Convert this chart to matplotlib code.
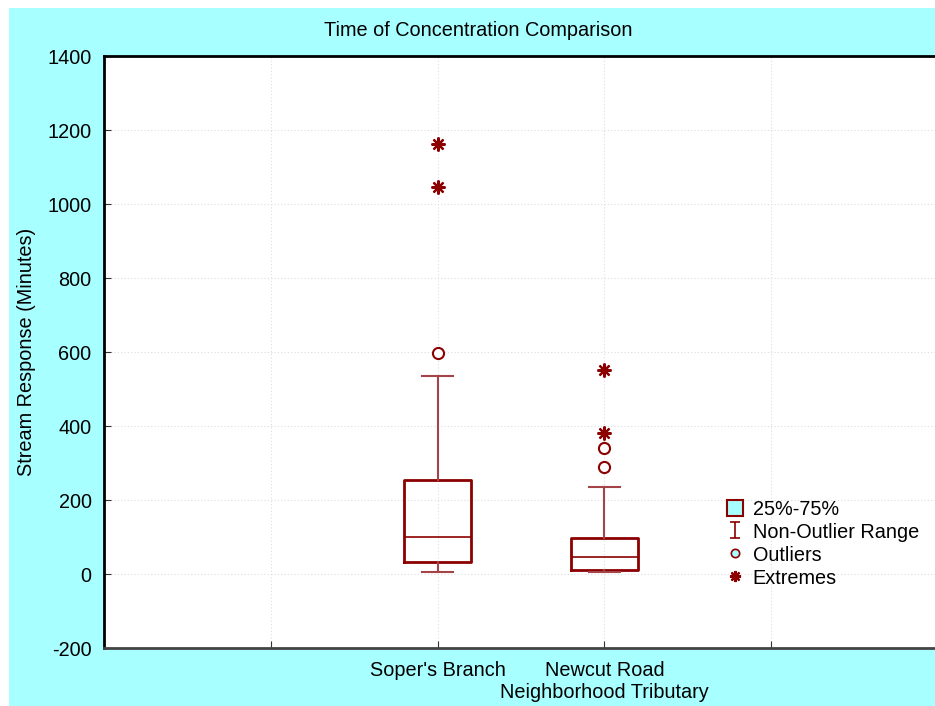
import matplotlib
matplotlib.use('Agg')
import matplotlib.pyplot as plt
from matplotlib.patches import Rectangle, Patch
from matplotlib.lines import Line2D
from matplotlib.path import Path

plt.rcParams['font.family'] = ['Liberation Sans', 'DejaVu Sans']
plt.rcParams['axes.unicode_minus'] = False

# data
sites = ["Soper's Branch", "Newcut Road\nNeighborhood Tributary"]
q1 = [32, 11]
median = [100, 46]
q3 = [254, 97]
whisker_lo = [5, 5]
whisker_hi = [535, 235]
outliers = [[597], [289, 340]]
extremes = [[1045, 1162], [381, 551]]

positions = [2, 3]
dark = '#8b0000'
whisk = '#a44448'
cyan = '#a8ffff'
fs = 14.3

# I-beam marker for the whisker legend entry
ibeam = Path([(-0.7, 1), (0.7, 1), (0, 1), (0, -1), (-0.7, -1), (0.7, -1)],
             [Path.MOVETO, Path.LINETO, Path.MOVETO, Path.LINETO, Path.MOVETO, Path.LINETO])

fig = plt.figure(figsize=(9.35, 7.06), dpi=100)
fig.patch.set_facecolor('white')
fig.patches.append(Rectangle((9 / 935, 0), 1, 1 - 8 / 706, transform=fig.transFigure,
                             facecolor=cyan, edgecolor='none', zorder=-10))

ax = fig.add_axes([104 / 935, 58 / 706, 834 / 935, 592 / 706])

stats = []
for i in range(len(sites)):
    stats.append(dict(med=median[i], q1=q1[i], q3=q3[i],
                      whislo=whisker_lo[i], whishi=whisker_hi[i], fliers=[]))

ax.bxp(stats, positions=positions, widths=0.4, showfliers=False,
       boxprops=dict(color=dark, linewidth=2),
       medianprops=dict(color=dark, linewidth=1.2),
       whiskerprops=dict(color=whisk, linewidth=1.5),
       capprops=dict(color=whisk, linewidth=1.5),
       capwidths=0.19)

for p, vals in zip(positions, outliers):
    ax.plot([p] * len(vals), vals, 'o', ms=8, mfc='white', mec=dark, mew=1.5)
for p, vals in zip(positions, extremes):
    ax.plot([p] * len(vals), vals, ls='none', marker=(8, 2, 0), ms=10, mec=dark, mew=1.6)

ax.set_xlim(0, 5)
ax.set_ylim(-200, 1400)
ax.set_yticks(range(-200, 1401, 200))
ax.set_xticks([1, 2, 3, 4])
ax.set_xticklabels(['', sites[0], sites[1], ''])
ax.tick_params(direction='in', labelsize=fs, length=5, color='#333333', pad=9)
ax.tick_params(axis='x', pad=9)
ax.grid(True, ls=(0, (1, 2)), color='#dddddd', lw=0.8)
for s in ['left', 'bottom', 'top']:
    ax.spines[s].set_linewidth(2)
ax.spines['bottom'].set_color('#444444')
ax.set_ylabel('Stream Response (Minutes)', fontsize=fs, labelpad=8)

fig.text(478 / 935, 1 - 31 / 706, 'Time of Concentration Comparison',
         ha='center', va='center', fontsize=fs)

handles = [
    Patch(facecolor=cyan, edgecolor=dark, linewidth=1.5, label='25%-75%'),
    Line2D([], [], color=dark, marker=ibeam, ls='none', ms=11, mew=1.2, label='Non-Outlier Range'),
    Line2D([], [], color=dark, marker='o', ls='none', ms=6, mfc=cyan, mec=dark, mew=1.2, label='Outliers'),
    Line2D([], [], color=dark, marker=(8, 2, 0), ls='none', ms=8, mew=1.6, label='Extremes'),
]
fig.legend(handles=handles, loc='upper left', bbox_to_anchor=(719 / 935, 1 - 492 / 706),
           frameon=False, fontsize=fs, handlelength=0.8, handleheight=0.9, handletextpad=0.5,
           labelspacing=0.19, borderaxespad=0)

fig.savefig('out.png', dpi=100)
